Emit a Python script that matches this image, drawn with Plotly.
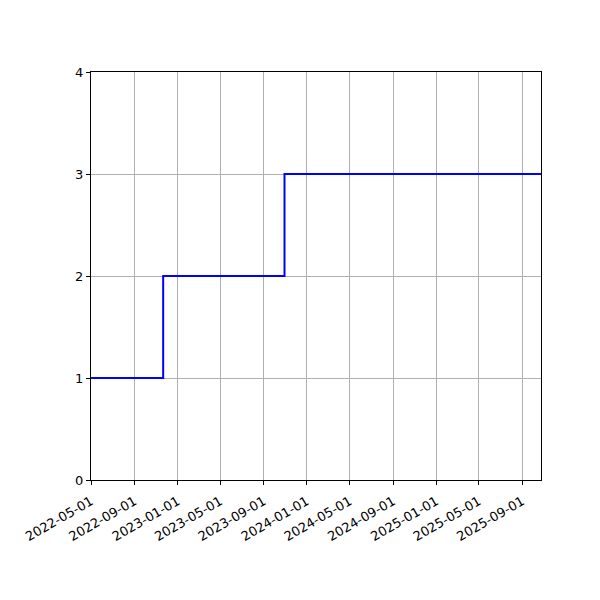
import plotly.graph_objects as go

# Step data (date the level starts, level)
dates = ['2022-05-01', '2022-11-21', '2023-10-30', '2025-10-24']
levels = [1, 2, 3, 3]

x_ticks = ['2022-05-01', '2022-09-01', '2023-01-01', '2023-05-01', '2023-09-01',
           '2024-01-01', '2024-05-01', '2024-09-01', '2025-01-01', '2025-05-01',
           '2025-09-01']
y_ticks = [0, 1, 2, 3, 4]

fig = go.Figure()
fig.add_trace(go.Scatter(x=dates, y=levels, mode='lines',
                         line=dict(color='blue', width=2, shape='hv'),
                         showlegend=False, hoverinfo='skip'))

axis_style = dict(showline=True, linewidth=1, linecolor='black', mirror=True,
                  showgrid=True, gridcolor='#b0b0b0', gridwidth=1,
                  ticks='outside', ticklen=4, tickwidth=1, tickcolor='black',
                  zeroline=False, tickfont=dict(family='DejaVu Sans', size=13, color='black'))

fig.update_xaxes(range=[dates[0], dates[-1]], tickvals=x_ticks, ticktext=x_ticks,
                 tickangle=-30, ticklabelstandoff=4, **axis_style)
fig.update_yaxes(range=[0, 4], tickvals=y_ticks, **axis_style)

# page body adds an 8px offset, so margins are shifted to compensate
fig.update_layout(width=600, height=600, plot_bgcolor='white', paper_bgcolor='white',
                  margin=dict(l=83, r=67, t=64, b=128, autoexpand=False),
                  font=dict(family='DejaVu Sans'))

fig.write_html('out.html')
